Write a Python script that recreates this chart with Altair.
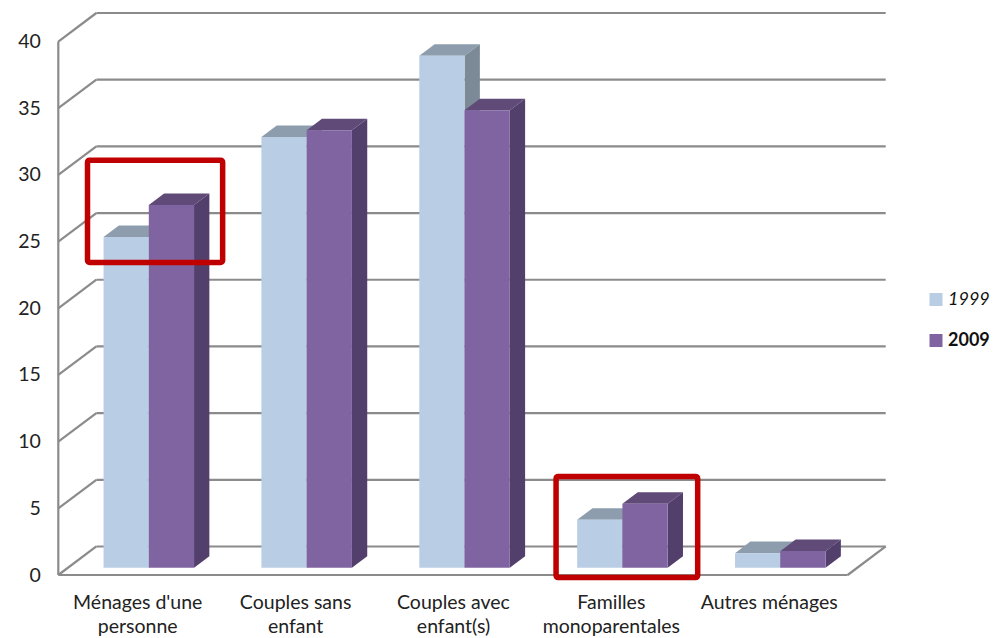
import json
import altair as alt
import pandas as pd

categories = ["Ménages d'une|personne", "Couples sans|enfant", "Couples avec|enfant(s)",
              "Familles|monoparentales", "Autres ménages"]
series_names = ["1999", "2009"]
values_1999 = [24.8, 32.3, 38.4, 3.6, 1.1]
values_2009 = [27.2, 32.8, 34.3, 4.8, 1.25]
ticks = [0, 5, 10, 15, 20, 25, 30, 35, 40]

front_colors = ["#b9cde5", "#8064a2"]
top_colors = ["#8e9dae", "#5f4a78"]
side_colors = ["#7b8a96", "#533f6b"]

FONT = "Lato"
PX_X, PX_Y = 157.7, 13.33          # pixels per category, per unit
WALL_X, WALL_Y = 38.0 / PX_X, 28.5 / PX_Y
BAR_W = 45.2 / PX_X
BAR_OFF = 45.2 / PX_X
BASE = 7.2 / PX_Y
DEPTH_X, DEPTH_Y = 15.3 / PX_X, 11.5 / PX_Y
XMAX = 5 + WALL_X
YMAX = 40 + WALL_Y

x_scale = alt.Scale(domain=[0, XMAX], nice=False, zero=False)
y_scale = alt.Scale(domain=[0, YMAX], nice=False, zero=False)
label_expr = "split(" + json.dumps(categories) + "[floor(datum.value)], '|')"
x_axis = alt.Axis(
    values=[0.5, 1.5, 2.5, 3.5, 4.5], labelExpr=label_expr, title=None, domain=False,
    ticks=False, grid=False, labelFont=FONT, labelFontSize=19.5, labelColor="#222222",
    labelPadding=18, labelLineHeight=24, labelAngle=0, labelOverlap=False)
y_axis = alt.Axis(
    values=ticks, title=None, domain=False, ticks=False, grid=False,
    labelFont=FONT, labelFontSize=19.5, labelColor="#222222", labelPadding=18)
X = alt.X("x:Q", scale=x_scale, axis=x_axis, stack=None)
Y = alt.Y("y:Q", scale=y_scale, axis=y_axis, stack=None)

GRID = "#8b8b8b"
rule_rows = []
for t in ticks:
    rule_rows.append(dict(x=WALL_X, x2=XMAX, y=t + WALL_Y, y2=t + WALL_Y))
    rule_rows.append(dict(x=0, x2=WALL_X, y=t, y2=t + WALL_Y))
rule_rows.append(dict(x=0, x2=0, y=0, y2=40))
rule_rows.append(dict(x=0, x2=5, y=0, y2=0))
rule_rows.append(dict(x=5, x2=XMAX, y=0, y2=WALL_Y))
rules = alt.Chart(pd.DataFrame(rule_rows)).mark_rule(color=GRID, strokeWidth=2.2).encode(
    x=X, x2="x2:Q", y=Y, y2="y2:Q")

layers = [rules]
for s, (name, vals) in enumerate(zip(series_names, [values_1999, values_2009])):
    front, top, side = [], [], []
    for i, v in enumerate(vals):
        x0 = i + BAR_OFF + s * BAR_W
        x1 = x0 + BAR_W
        y0 = BASE
        y1 = BASE + v
        front.append(dict(x=x0, x2=x1, y=y0, y2=y1, series=name))
        top.append(dict(bar=i, y=y1, x=x0, x2=x1))
        top.append(dict(bar=i, y=y1 + DEPTH_Y, x=x0 + DEPTH_X, x2=x1 + DEPTH_X))
        side.append(dict(bar=i, x=x1, y=y0, y2=y1))
        side.append(dict(bar=i, x=x1 + DEPTH_X, y=y0 + DEPTH_Y, y2=y1 + DEPTH_Y))
    layers.append(alt.Chart(pd.DataFrame(top)).mark_area(
        orient="horizontal", color=top_colors[s], interpolate="linear").encode(
        y=Y, x=X, x2="x2:Q", detail="bar:N"))
    layers.append(alt.Chart(pd.DataFrame(side)).mark_area(
        color=side_colors[s], interpolate="linear").encode(
        x=X, y=Y, y2="y2:Q", detail="bar:N"))
    layers.append(alt.Chart(pd.DataFrame(front)).mark_rect().encode(
        x=X, x2="x2:Q", y=Y, y2="y2:Q",
        color=alt.Color("series:N",
                        scale=alt.Scale(domain=series_names, range=front_colors),
                        legend=alt.Legend(
                            title=None, orient="none", legendX=868.7, legendY=277.5,
                            symbolType="square", symbolSize=169, symbolStrokeWidth=0,
                            labelFont=FONT, labelFontSize=18, labelColor="#111111",
                            labelOffset=3, rowPadding=23,
                            labelFontStyle=alt.expr("datum.label == '1999' ? 'italic' : 'normal'"),
                            labelFontWeight=alt.expr("datum.label == '2009' ? 'bold' : 'normal'"),
                        ))))

# red highlight boxes
box_x = [0.185, 3.153]
box_x2 = [1.041, 4.05]
box_y = [23.44, -0.19]
box_y2 = [31.1, 7.39]
boxes = alt.Chart(pd.DataFrame(dict(x=box_x, x2=box_x2, y=box_y, y2=box_y2))).mark_rect(
    fillOpacity=0, stroke="#c00000", strokeWidth=5.5, cornerRadius=2, clip=False).encode(
    x=X, x2="x2:Q", y=Y, y2="y2:Q")
layers.append(boxes)

chart = alt.layer(*layers).properties(
    width=827.4, height=562,
    autosize=alt.AutoSizeParams(type="none"),
    padding={"left": 50.3, "top": 5, "right": 105.3, "bottom": 62.5},
).configure_view(stroke=None)

chart.save("out.html", embed_options={"renderer": "svg", "actions": False})
